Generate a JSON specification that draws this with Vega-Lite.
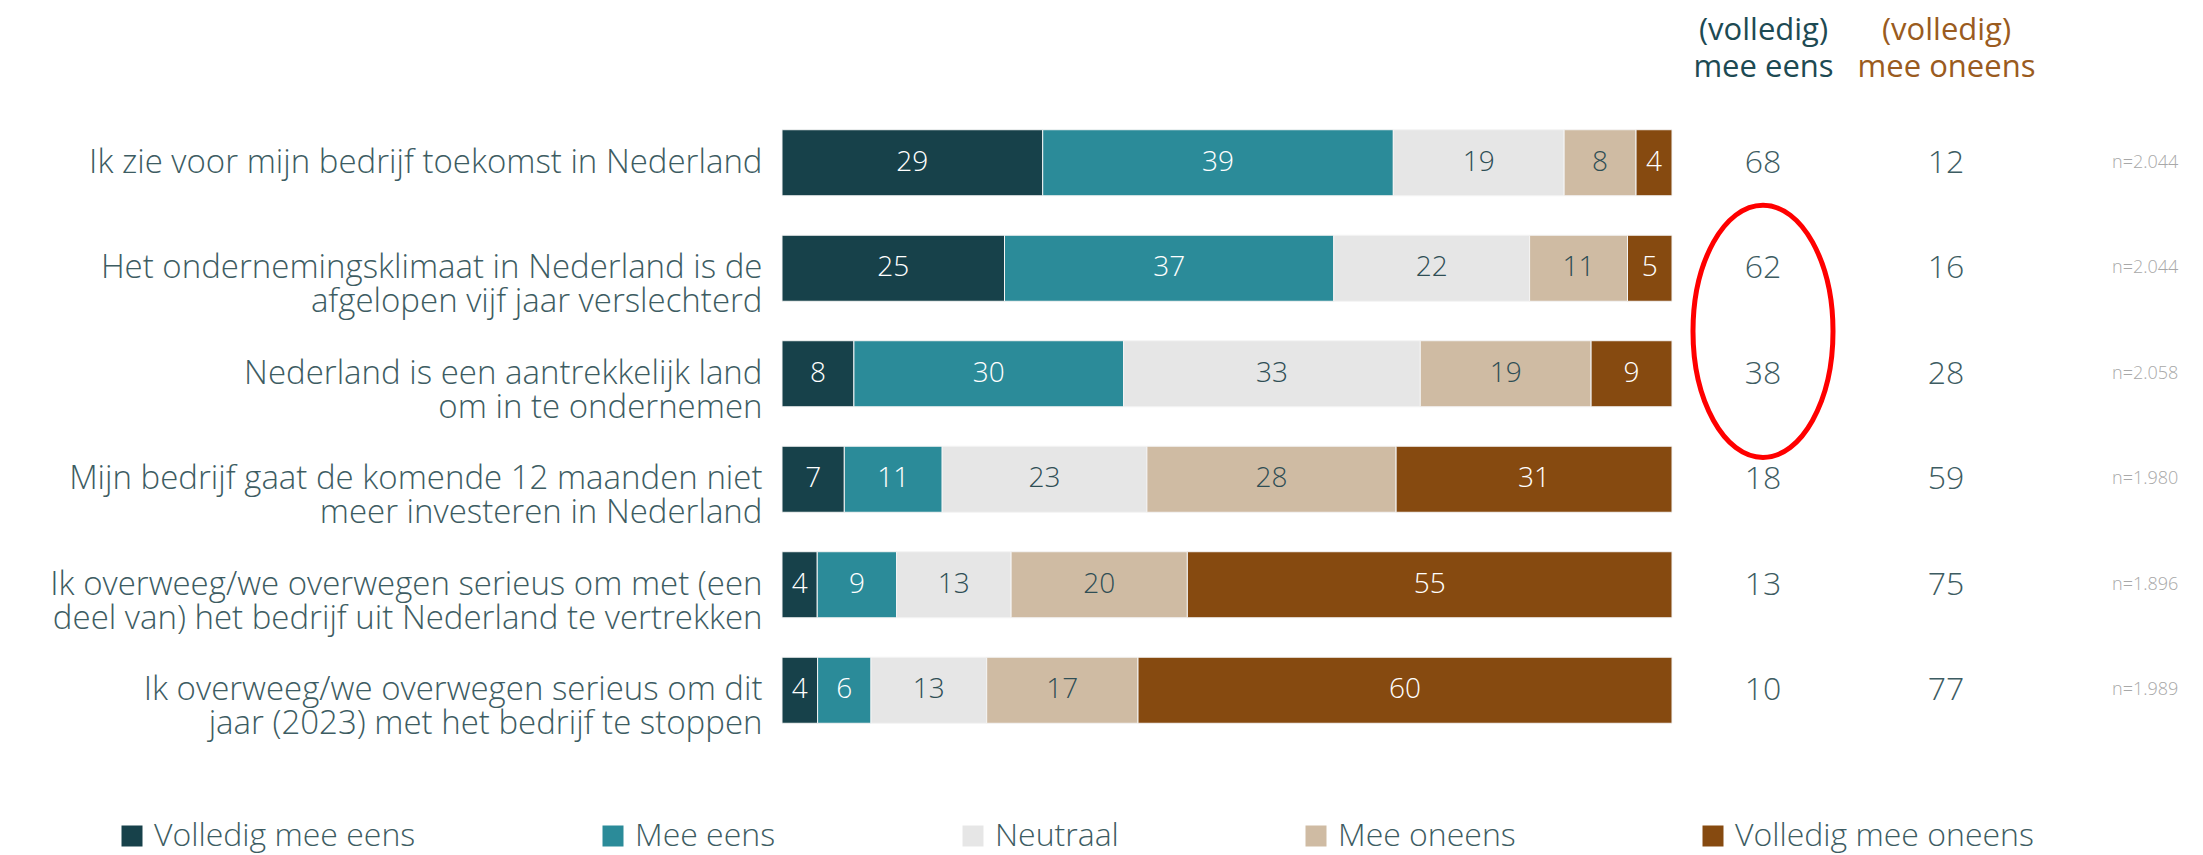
{
  "$schema": "https://vega.github.io/schema/vega-lite/v6.json",
  "width": 1421,
  "height": 633,
  "autosize": {"type": "none"},
  "padding": {"left": 782, "top": 110, "right": 0, "bottom": 112},
  "background": "white",
  "config": {"font": "Open Sans", "view": {"stroke": null}},
  "datasets": {
    "segments": [
      {"statement": "Ik zie voor mijn bedrijf toekomst in Nederland", "cat": "Volledig mee eens", "k": 1, "v": 29},
      {"statement": "Ik zie voor mijn bedrijf toekomst in Nederland", "cat": "Mee eens", "k": 2, "v": 39},
      {"statement": "Ik zie voor mijn bedrijf toekomst in Nederland", "cat": "Neutraal", "k": 3, "v": 19},
      {"statement": "Ik zie voor mijn bedrijf toekomst in Nederland", "cat": "Mee oneens", "k": 4, "v": 8},
      {"statement": "Ik zie voor mijn bedrijf toekomst in Nederland", "cat": "Volledig mee oneens", "k": 5, "v": 4},
      {"statement": "Het ondernemingsklimaat in Nederland is de|afgelopen vijf jaar verslechterd", "cat": "Volledig mee eens", "k": 1, "v": 25},
      {"statement": "Het ondernemingsklimaat in Nederland is de|afgelopen vijf jaar verslechterd", "cat": "Mee eens", "k": 2, "v": 37},
      {"statement": "Het ondernemingsklimaat in Nederland is de|afgelopen vijf jaar verslechterd", "cat": "Neutraal", "k": 3, "v": 22},
      {"statement": "Het ondernemingsklimaat in Nederland is de|afgelopen vijf jaar verslechterd", "cat": "Mee oneens", "k": 4, "v": 11},
      {"statement": "Het ondernemingsklimaat in Nederland is de|afgelopen vijf jaar verslechterd", "cat": "Volledig mee oneens", "k": 5, "v": 5},
      {"statement": "Nederland is een aantrekkelijk land|om in te ondernemen", "cat": "Volledig mee eens", "k": 1, "v": 8},
      {"statement": "Nederland is een aantrekkelijk land|om in te ondernemen", "cat": "Mee eens", "k": 2, "v": 30},
      {"statement": "Nederland is een aantrekkelijk land|om in te ondernemen", "cat": "Neutraal", "k": 3, "v": 33},
      {"statement": "Nederland is een aantrekkelijk land|om in te ondernemen", "cat": "Mee oneens", "k": 4, "v": 19},
      {"statement": "Nederland is een aantrekkelijk land|om in te ondernemen", "cat": "Volledig mee oneens", "k": 5, "v": 9},
      {"statement": "Mijn bedrijf gaat de komende 12 maanden niet|meer investeren in Nederland", "cat": "Volledig mee eens", "k": 1, "v": 7},
      {"statement": "Mijn bedrijf gaat de komende 12 maanden niet|meer investeren in Nederland", "cat": "Mee eens", "k": 2, "v": 11},
      {"statement": "Mijn bedrijf gaat de komende 12 maanden niet|meer investeren in Nederland", "cat": "Neutraal", "k": 3, "v": 23},
      {"statement": "Mijn bedrijf gaat de komende 12 maanden niet|meer investeren in Nederland", "cat": "Mee oneens", "k": 4, "v": 28},
      {"statement": "Mijn bedrijf gaat de komende 12 maanden niet|meer investeren in Nederland", "cat": "Volledig mee oneens", "k": 5, "v": 31},
      {"statement": "Ik overweeg/we overwegen serieus om met (een|deel van) het bedrijf uit Nederland te vertrekken", "cat": "Volledig mee eens", "k": 1, "v": 4},
      {"statement": "Ik overweeg/we overwegen serieus om met (een|deel van) het bedrijf uit Nederland te vertrekken", "cat": "Mee eens", "k": 2, "v": 9},
      {"statement": "Ik overweeg/we overwegen serieus om met (een|deel van) het bedrijf uit Nederland te vertrekken", "cat": "Neutraal", "k": 3, "v": 13},
      {"statement": "Ik overweeg/we overwegen serieus om met (een|deel van) het bedrijf uit Nederland te vertrekken", "cat": "Mee oneens", "k": 4, "v": 20},
      {"statement": "Ik overweeg/we overwegen serieus om met (een|deel van) het bedrijf uit Nederland te vertrekken", "cat": "Volledig mee oneens", "k": 5, "v": 55},
      {"statement": "Ik overweeg/we overwegen serieus om dit|jaar (2023) met het bedrijf te stoppen", "cat": "Volledig mee eens", "k": 1, "v": 4},
      {"statement": "Ik overweeg/we overwegen serieus om dit|jaar (2023) met het bedrijf te stoppen", "cat": "Mee eens", "k": 2, "v": 6},
      {"statement": "Ik overweeg/we overwegen serieus om dit|jaar (2023) met het bedrijf te stoppen", "cat": "Neutraal", "k": 3, "v": 13},
      {"statement": "Ik overweeg/we overwegen serieus om dit|jaar (2023) met het bedrijf te stoppen", "cat": "Mee oneens", "k": 4, "v": 17},
      {"statement": "Ik overweeg/we overwegen serieus om dit|jaar (2023) met het bedrijf te stoppen", "cat": "Volledig mee oneens", "k": 5, "v": 60}
    ],
    "totals": [
      {"statement": "Ik zie voor mijn bedrijf toekomst in Nederland", "kolom": "mee eens", "waarde": "68"},
      {"statement": "Ik zie voor mijn bedrijf toekomst in Nederland", "kolom": "mee oneens", "waarde": "12"},
      {"statement": "Ik zie voor mijn bedrijf toekomst in Nederland", "kolom": "n", "waarde": "n=2.044"},
      {"statement": "Het ondernemingsklimaat in Nederland is de|afgelopen vijf jaar verslechterd", "kolom": "mee eens", "waarde": "62"},
      {"statement": "Het ondernemingsklimaat in Nederland is de|afgelopen vijf jaar verslechterd", "kolom": "mee oneens", "waarde": "16"},
      {"statement": "Het ondernemingsklimaat in Nederland is de|afgelopen vijf jaar verslechterd", "kolom": "n", "waarde": "n=2.044"},
      {"statement": "Nederland is een aantrekkelijk land|om in te ondernemen", "kolom": "mee eens", "waarde": "38"},
      {"statement": "Nederland is een aantrekkelijk land|om in te ondernemen", "kolom": "mee oneens", "waarde": "28"},
      {"statement": "Nederland is een aantrekkelijk land|om in te ondernemen", "kolom": "n", "waarde": "n=2.058"},
      {"statement": "Mijn bedrijf gaat de komende 12 maanden niet|meer investeren in Nederland", "kolom": "mee eens", "waarde": "18"},
      {"statement": "Mijn bedrijf gaat de komende 12 maanden niet|meer investeren in Nederland", "kolom": "mee oneens", "waarde": "59"},
      {"statement": "Mijn bedrijf gaat de komende 12 maanden niet|meer investeren in Nederland", "kolom": "n", "waarde": "n=1.980"},
      {"statement": "Ik overweeg/we overwegen serieus om met (een|deel van) het bedrijf uit Nederland te vertrekken", "kolom": "mee eens", "waarde": "13"},
      {"statement": "Ik overweeg/we overwegen serieus om met (een|deel van) het bedrijf uit Nederland te vertrekken", "kolom": "mee oneens", "waarde": "75"},
      {"statement": "Ik overweeg/we overwegen serieus om met (een|deel van) het bedrijf uit Nederland te vertrekken", "kolom": "n", "waarde": "n=1.896"},
      {"statement": "Ik overweeg/we overwegen serieus om dit|jaar (2023) met het bedrijf te stoppen", "kolom": "mee eens", "waarde": "10"},
      {"statement": "Ik overweeg/we overwegen serieus om dit|jaar (2023) met het bedrijf te stoppen", "kolom": "mee oneens", "waarde": "77"},
      {"statement": "Ik overweeg/we overwegen serieus om dit|jaar (2023) met het bedrijf te stoppen", "kolom": "n", "waarde": "n=1.989"}
    ],
    "annotation": [
      {"statement": "Het ondernemingsklimaat in Nederland is de|afgelopen vijf jaar verslechterd", "kolom": "mee eens"}
    ]
  },
  "layer": [
    {
      "data": {"name": "segments"},
      "transform": [
        {"stack": "v", "groupby": ["statement"], "sort": [{"field": "k", "order": "ascending"}], "offset": "normalize", "as": ["x0", "x1"]}
      ],
      "mark": {"type": "bar", "stroke": "#f4f4f4", "strokeWidth": 1},
      "encoding": {
        "y": {
          "field": "statement", "type": "nominal", "sort": null,
          "scale": {"paddingInner": 0.374, "paddingOuter": 0.187},
          "axis": {
            "title": null, "domain": false, "ticks": false, "grid": false,
            "labelExpr": "split(datum.label, '|')",
            "labelFont": "Open Sans", "labelFontSize": 33, "labelFontWeight": 300,
            "labelColor": "#3d5c62", "labelLineHeight": 34, "labelPadding": 20, "labelLimit": 780,
            "labelOverlap": false
          }
        },
        "x": {"field": "x0", "type": "quantitative", "scale": {"domain": [0, 1], "range": [0, 890]}, "axis": null},
        "x2": {"field": "x1"},
        "color": {
          "field": "cat", "type": "nominal",
          "scale": {
            "domain": ["Volledig mee eens", "Mee eens", "Neutraal", "Mee oneens", "Volledig mee oneens"],
            "range": ["#17414a", "#2b8b99", "#e6e6e6", "#cfbba3", "#864a10"]
          },
          "legend": {
            "orient": "none", "direction": "horizontal", "legendX": -666, "legendY": 710,
            "title": null, "symbolType": "square", "symbolSize": 441, "symbolStrokeWidth": 0, "symbolOpacity": 1,
            "labelFont": "Open Sans", "labelFontSize": 32, "labelFontWeight": 300, "labelColor": "#3d5c62",
            "columnPadding": 181, "labelOffset": 6, "labelLimit": 600, "padding": 0
          }
        }
      }
    },
    {
      "data": {"name": "segments"},
      "transform": [
        {"stack": "v", "groupby": ["statement"], "sort": [{"field": "k", "order": "ascending"}], "offset": "normalize", "as": ["x0", "x1"]},
        {"fold": ["x0", "x1"], "as": ["edge", "pos"]},
        {"aggregate": [{"op": "mean", "field": "pos", "as": "mid"}], "groupby": ["statement", "cat", "k", "v"]}
      ],
      "mark": {"type": "text", "font": "Open Sans", "fontSize": 28, "fontWeight": 300, "baseline": "middle", "align": "center"},
      "encoding": {
        "y": {"field": "statement", "type": "nominal", "sort": null},
        "x": {"field": "mid", "type": "quantitative", "scale": {"domain": [0, 1], "range": [0, 890]}, "axis": null},
        "text": {"field": "v", "type": "quantitative"},
        "color": {
          "condition": {"test": "datum.cat == 'Volledig mee eens' || datum.cat == 'Mee eens' || datum.cat == 'Volledig mee oneens'", "value": "#ffffff"},
          "value": "#2f4e55"
        }
      }
    },
    {
      "data": {"name": "totals"},
      "transform": [{"filter": "datum.kolom != 'n'"}],
      "mark": {"type": "text", "font": "Open Sans", "fontSize": 32, "fontWeight": 300, "baseline": "middle", "align": "center", "color": "#3d5c62"},
      "encoding": {
        "y": {"field": "statement", "type": "nominal", "sort": null},
        "x": {
          "field": "kolom", "type": "nominal",
          "scale": {"type": "point", "domain": ["mee eens", "mee oneens", "n"], "range": [981, 1347], "padding": 0},
          "axis": {
            "orient": "top", "title": null, "domain": false, "ticks": false, "grid": false, "labelAngle": 0,
            "labelExpr": "datum.value == 'n' ? '' : ['(volledig)', datum.value]",
            "labelFont": "Open Sans", "labelFontSize": 31, "labelFontWeight": 500, "labelLineHeight": 37,
            "labelBaseline": "bottom", "labelPadding": 64,
            "labelColor": {"condition": {"test": "datum.value == 'mee eens'", "value": "#1d4a53"}, "value": "#9a5b20"}
          }
        },
        "text": {"field": "waarde", "type": "nominal"}
      }
    },
    {
      "data": {"name": "totals"},
      "transform": [{"filter": "datum.kolom == 'n'"}],
      "mark": {"type": "text", "font": "Open Sans", "fontSize": 18, "fontWeight": 300, "baseline": "middle", "align": "left", "dx": -17, "color": "#a8a8a8"},
      "encoding": {
        "y": {"field": "statement", "type": "nominal", "sort": null},
        "x": {
          "field": "kolom", "type": "nominal",
          "scale": {"type": "point", "domain": ["mee eens", "mee oneens", "n"], "range": [981, 1347], "padding": 0},
          "axis": null
        },
        "text": {"field": "waarde", "type": "nominal"}
      }
    },
    {
      "data": {"name": "annotation"},
      "mark": {
        "type": "point", "filled": false, "stroke": "#ff0000", "strokeWidth": 5, "opacity": 1, "size": 16900,
        "shape": "M1.077,0.97 C1.077,2.041 0.595,2.91 0,2.91 C-0.595,2.91 -1.077,2.041 -1.077,0.97 C-1.077,-0.101 -0.595,-0.97 0,-0.97 C0.595,-0.97 1.077,-0.101 1.077,0.97 Z"
      },
      "encoding": {
        "y": {"field": "statement", "type": "nominal", "sort": null},
        "x": {
          "field": "kolom", "type": "nominal",
          "scale": {"type": "point", "domain": ["mee eens", "mee oneens", "n"], "range": [981, 1347], "padding": 0},
          "axis": null
        }
      }
    }
  ],
  "resolve": {"scale": {"x": "independent"}, "axis": {"x": "independent"}}
}
